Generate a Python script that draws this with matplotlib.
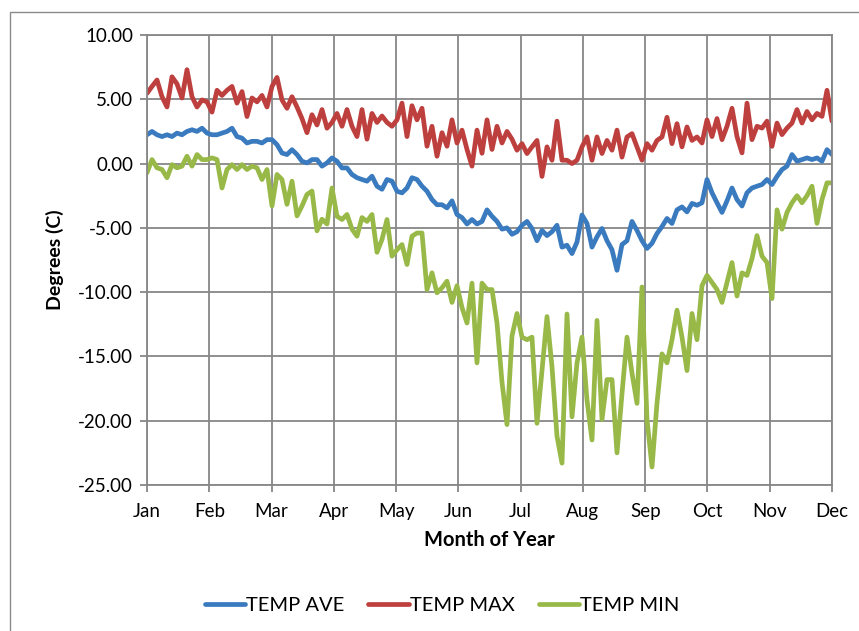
import numpy as np
import matplotlib
matplotlib.use("Agg")
import matplotlib.pyplot as plt
from matplotlib.patches import Rectangle

months = ["Jan", "Feb", "Mar", "Apr", "May", "Jun", "Jul", "Aug", "Sep", "Oct", "Nov", "Dec"]
y_ticks = [10, 5, 0, -5, -10, -15, -20, -25]

temp_max = [
    5.46, 6.0, 6.5, 5.2, 4.4, 6.75, 6.2, 5.1, 7.3, 5.2, 4.4, 4.95, 4.8, 4.0, 5.7, 5.3, 5.7, 6.0, 4.7, 5.6,
    3.66, 5.1, 4.8, 5.3, 4.4, 6.0, 6.7, 4.95, 4.3, 5.2, 4.4, 3.5, 2.4, 3.8, 3.0, 4.2, 2.75,
    3.2, 3.9, 2.9, 4.2, 2.9, 2.1, 4.2, 1.9, 3.9, 3.2, 3.7, 3.2, 2.9, 3.4, 4.7, 2.1, 4.5, 3.4, 4.3, 1.35,
    2.9, 0.57, 2.4, 1.35, 3.4, 1.6, 2.6, 1.1, -0.2, 2.6, 0.8, 3.4, 1.1, 2.9, 1.6, 2.5, 1.9,
    1.04, 1.55, 0.78, 1.3, 1.8, -1.0, 1.3, 0.26, 3.3, 0.26, 0.26, 0.0, 0.26, 1.3, 2.07, 0.26, 2.07, 0.78,
    1.8, 1.04, 2.6, 0.5, 2.07, 2.33, 1.3, 0.26, 1.55, 1.04, 1.8, 2.07, 3.6, 1.55, 3.1, 1.3, 2.85, 1.8, 2.07,
    1.6, 3.4, 2.1, 3.5, 1.86, 2.9, 4.3, 2.1, 0.83, 4.7, 1.86, 2.9, 2.76, 3.3, 1.34, 3.15, 2.25, 2.76, 3.15,
    4.2, 3.15, 4.05, 3.4, 3.9, 3.67, 5.7, 3.3,
]

temp_ave = [
    2.24, 2.5, 2.24, 2.1, 2.24, 2.1, 2.37, 2.24, 2.5, 2.63, 2.5, 2.75, 2.37, 2.24, 2.24, 2.37, 2.5, 2.75,
    2.1, 1.98, 1.6, 1.73, 1.73, 1.6, 1.86, 1.86, 1.47, 0.82, 0.7, 1.08, 0.7, 0.18, 0.05, 0.31, 0.31, -0.2, 0.05,
    0.44, 0.18, -0.34, -0.34, -0.85, -1.1, -1.24, -1.37, -0.98, -1.76, -2.0, -1.24, -1.37, -2.15, -2.28, -1.9,
    -1.1, -1.24, -1.76, -2.15, -2.8, -3.2, -3.2, -3.45, -2.9, -3.96, -4.2, -4.7, -4.35, -4.7, -4.5, -3.6, -4.1,
    -4.5, -5.1, -5.0, -5.5,
    -5.3, -4.8, -4.5, -5.05, -6.0, -5.2, -5.6, -5.3, -4.8, -6.5, -6.35, -7.0, -6.1, -4.0, -4.66, -6.5, -5.7,
    -5.05, -6.0, -6.7, -8.3, -6.3, -6.0, -4.5, -5.2, -6.0, -6.6, -6.2, -5.44, -4.9, -4.27, -4.66, -3.6, -3.37,
    -3.76, -3.1, -3.24,
    -3.05, -1.24, -2.27, -3.05, -3.8, -2.9, -1.9, -2.8, -3.3, -2.27, -1.9, -1.76, -1.63, -1.24, -1.63, -1.0,
    -0.47, -0.2, 0.7, 0.18, 0.31, 0.44, 0.31, 0.44, 0.18, 1.08, 0.7,
]

temp_min = [
    -0.72, 0.31, -0.33, -0.46, -1.1, -0.08, -0.33, -0.2, 0.57, -0.2, 0.7, 0.31, 0.31, 0.44, 0.31, -1.9, -0.46,
    -0.08, -0.46, -0.08, -0.46, -0.2, -0.33, -1.24, -0.46, -3.3, -0.85, -1.24, -3.17, -1.37, -4.07, -3.3, -2.4,
    -2.14, -5.23, -4.33, -4.7,
    -1.9, -4.1, -4.35, -3.96, -5.1, -5.65, -4.2, -4.5, -3.96, -6.9, -5.9, -4.35, -7.2, -6.7, -6.3, -7.85, -5.65,
    -5.4, -5.4, -9.8, -8.5, -10.05, -9.66, -9.15, -10.8, -9.5, -11.2, -12.4, -9.3, -15.5, -9.3, -9.8, -9.8,
    -12.4, -17.0, -20.3, -13.4,
    -11.66, -13.5, -13.7, -13.5, -20.2, -16.1, -11.9, -15.8, -21.2, -23.3, -11.7, -19.7, -15.5, -13.5, -18.4,
    -21.5, -12.2, -19.9, -16.8, -16.8, -22.5, -17.9, -13.5, -16.3, -18.65, -9.6, -19.9, -23.6, -18.65, -14.8,
    -15.5, -13.7, -11.4, -13.5, -16.1, -11.66, -13.7,
    -9.5, -8.7, -9.25, -9.8, -10.8, -9.25, -7.7, -10.3, -8.5, -8.7, -7.4, -5.6, -7.2, -7.7, -10.5, -3.6, -5.1,
    -3.8, -3.05, -2.5, -3.05, -2.5, -1.76, -4.65, -2.8, -1.5, -1.5,
]

FONT = "Lato"
plt.rcParams["font.family"] = [FONT, "DejaVu Sans"]

W, H = 859, 631
fig = plt.figure(figsize=(W / 100, H / 100), dpi=100)
ax = fig.add_axes([147 / W, 1 - 485 / H, (832 - 147) / W, (485 - 35) / H])

grid_c = "#878787"
c_ave, c_max, c_min = "#3A7ABE", "#BE403E", "#98B948"

def xs(vals):
    return np.linspace(0, len(months) - 1, len(vals))

kw = dict(lw=3.4, solid_joinstyle="round", solid_capstyle="round")
ax.plot(xs(temp_ave), temp_ave, color=c_ave, label="TEMP AVE", **kw)
ax.plot(xs(temp_max), temp_max, color=c_max, label="TEMP MAX", **kw)
ax.plot(xs(temp_min), temp_min, color=c_min, label="TEMP MIN", **kw)

ax.set_xlim(0, len(months) - 1)
ax.set_ylim(-25, 10)
ax.set_xticks(range(len(months)))
ax.set_xticklabels(months)
ax.set_yticks(y_ticks)
ax.set_yticklabels([f"{v:.2f}" for v in y_ticks])
ax.grid(True, color=grid_c, lw=1.3)
ax.set_axisbelow(True)
for s in ax.spines.values():
    s.set_color(grid_c)
    s.set_linewidth(1.3)
ax.tick_params(axis="both", colors=grid_c, labelcolor="black", labelsize=13.5, length=5, width=1.3)
ax.tick_params(axis="y", pad=5)
ax.tick_params(axis="x", pad=8)

ax.set_ylabel("Degrees (C)", fontsize=14, fontweight="bold", labelpad=10)
ax.set_xlabel("Month of Year", fontsize=14.5, fontweight="bold", labelpad=7)

leg = fig.legend(loc="center", bbox_to_anchor=(442 / W, 1 - 605 / H), ncol=3, frameon=False,
                 fontsize=14.5, handlelength=2.0, handletextpad=0.05, columnspacing=1.2)

fig.patches.append(Rectangle((10 / W, -0.1), 1.2, 1.1 - 12 / H, transform=fig.transFigure,
                             fill=False, edgecolor="#8a8a8a", lw=1.0))

fig.savefig("out.png", dpi=100)
